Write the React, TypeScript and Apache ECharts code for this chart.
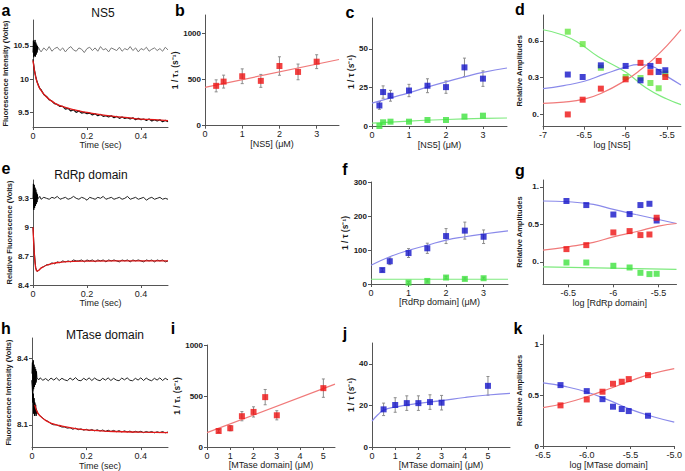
import React, { useEffect, useRef } from "react";
import * as echarts from "echarts";

// ---------- shared time base for stopped-flow traces ----------
const TIME = [0, 0.005, 0.01, 0.015, 0.02, 0.025, 0.03, 0.04, 0.05, 0.06, 0.07, 0.08, 0.09, 0.1, 0.11, 0.12, 0.13, 0.14, 0.15, 0.16, 0.17, 0.18, 0.19, 0.2, 0.21, 0.22, 0.23, 0.24, 0.25, 0.26, 0.27, 0.28, 0.29, 0.3, 0.31, 0.32, 0.33, 0.34, 0.35, 0.36, 0.37, 0.38, 0.39, 0.4, 0.41, 0.42, 0.43, 0.44, 0.45, 0.46, 0.47, 0.48, 0.49, 0.5];
const BURST_TIME = [0, 0.0015, 0.003, 0.0045, 0.006, 0.0075, 0.009, 0.0105, 0.012, 0.0135, 0.015, 0.0165, 0.018];

// ---------- panel a (NS5 traces) ----------
const aControl = [10.45, 10.43, 10.47, 10.42, 10.48, 10.44, 10.41, 10.47, 10.43, 10.49, 10.42, 10.46, 10.48, 10.43, 10.47, 10.41, 10.46, 10.49, 10.44, 10.42, 10.47, 10.45, 10.40, 10.46, 10.48, 10.43, 10.47, 10.42, 10.49, 10.44, 10.46, 10.41, 10.47, 10.45, 10.43, 10.48, 10.42, 10.46, 10.44, 10.49, 10.43, 10.47, 10.41, 10.46, 10.44, 10.48, 10.42, 10.45, 10.47, 10.43, 10.46, 10.42, 10.48, 10.44];
const aTrace = [10.30, 10.14, 10.04, 9.96, 9.91, 9.86, 9.84, 9.77, 9.74, 9.69, 9.67, 9.63, 9.62, 9.59, 9.59, 9.55, 9.56, 9.52, 9.54, 9.50, 9.52, 9.49, 9.50, 9.48, 9.49, 9.46, 9.48, 9.45, 9.47, 9.44, 9.45, 9.43, 9.45, 9.42, 9.44, 9.41, 9.43, 9.41, 9.42, 9.40, 9.42, 9.39, 9.41, 9.39, 9.40, 9.38, 9.40, 9.37, 9.39, 9.37, 9.39, 9.36, 9.38, 9.36];
const aBurst = [10.40, 10.58, 10.33, 10.56, 10.35, 10.59, 10.34, 10.55, 10.37, 10.52, 10.40, 10.50, 10.44];
const aFitT = [0, 0.01, 0.02, 0.03, 0.05, 0.075, 0.1, 0.15, 0.2, 0.25, 0.3, 0.35, 0.4, 0.45, 0.5];
const aFit = [10.28, 10.03, 9.90, 9.83, 9.73, 9.655, 9.60, 9.54, 9.50, 9.465, 9.44, 9.42, 9.40, 9.39, 9.375];
const aYTicks = [9.5, 10, 10.5];
const aYLabels = ["9.5", "10", "10.5"];
const timeTicks = [0, 0.2, 0.4];
const timeLabels = ["0", "0.2", "0.4"];

// ---------- panel b ----------
const bX = [0.3, 0.5, 1, 1.5, 2, 2.5, 3];
const bY = [432, 478, 536, 486, 647, 583, 694];
const bErr = [65, 70, 80, 70, 100, 85, 75];
const bFitX = [0, 3.6];
const bFitY = [415, 718];
const bYTicks = [0, 500, 1000];
const ns5XTicks = [0, 1, 2, 3];

// ---------- panel c ----------
const cX = [0.2, 0.3, 0.5, 1, 1.5, 2, 2.5, 3];
const cBlue = [13.3, 22, 19.6, 23, 26.1, 25.2, 38, 30.7];
const cBlueErr = [2.5, 4, 3.5, 4, 4.5, 4, 6, 5];
const cGreen = [0, 2.4, 2.8, 2.8, 3.9, 3.9, 6.1, 6.7];
const cBlueFitX = [0, 0.5, 1, 1.5, 2, 2.5, 3, 3.65];
const cBlueFit = [14.8, 18.2, 21.5, 25.2, 28.6, 31.8, 34.8, 37.6];
const cGreenFitX = [0, 1, 2, 3, 3.65];
const cGreenFit = [1.8, 3.2, 4.2, 4.9, 5.2];
const cYTicks = [0, 25, 50];

// ---------- panel d ----------
const dX = [-6.70, -6.52, -6.30, -6, -5.82, -5.70, -5.60, -5.52];
const dBlue = [0.325, 0.305, 0.40, 0.395, 0.278, 0.395, 0.346, 0.36];
const dRed = [0.0, 0.12, 0.21, 0.286, 0.42, 0.344, 0.436, 0.305];
const dGreen = [0.674, 0.573, 0.38, 0.305, 0.297, 0.256, 0.213, 0.333];
const dGreenFitX = [-7, -6.75, -6.54, -6.33, -6, -5.75, -5.5, -5.33];
const dGreenFit = [0.69, 0.645, 0.57, 0.47, 0.345, 0.215, 0.125, 0.08];
const dBlueFitX = [-7, -6.75, -6.5, -6.25, -6, -5.85, -5.7, -5.5, -5.33];
const dBlueFit = [0.21, 0.235, 0.27, 0.33, 0.385, 0.405, 0.395, 0.31, 0.24];
const dRedFitX = [-7, -6.75, -6.5, -6.3, -6, -5.8, -5.65, -5.5, -5.33];
const dRedFit = [0.09, 0.10, 0.125, 0.17, 0.278, 0.374, 0.46, 0.56, 0.69];
const dYTicks = [0, 0.3, 0.6];
const dYLabels = ["0.", "0.3", "0.6"];
const dXTicks = [-7, -6.5, -6, -5.5];

// ---------- panel e (RdRp traces) ----------
const eControl = [9.30, 9.31, 9.29, 9.31, 9.30, 9.32, 9.29, 9.31, 9.30, 9.29, 9.31, 9.30, 9.32, 9.29, 9.30, 9.31, 9.29, 9.30, 9.32, 9.30, 9.29, 9.31, 9.30, 9.28, 9.31, 9.30, 9.29, 9.31, 9.30, 9.32, 9.29, 9.30, 9.31, 9.29, 9.30, 9.31, 9.29, 9.30, 9.32, 9.29, 9.30, 9.31, 9.29, 9.30, 9.31, 9.28, 9.30, 9.31, 9.29, 9.30, 9.31, 9.29, 9.30, 9.29];
const eTrace = [9.00, 8.74, 8.58, 8.54, 8.55, 8.56, 8.58, 8.59, 8.61, 8.61, 8.63, 8.62, 8.64, 8.63, 8.65, 8.64, 8.65, 8.64, 8.66, 8.65, 8.65, 8.66, 8.64, 8.66, 8.65, 8.66, 8.64, 8.66, 8.65, 8.66, 8.64, 8.66, 8.65, 8.66, 8.65, 8.64, 8.66, 8.65, 8.66, 8.64, 8.66, 8.65, 8.66, 8.65, 8.64, 8.66, 8.65, 8.66, 8.64, 8.66, 8.65, 8.66, 8.64, 8.65];
const eBurst = [9.30, 9.45, 9.18, 9.44, 9.20, 9.41, 9.22, 9.39, 9.24, 9.36, 9.26, 9.34, 9.29];
const eFitT = [0, 0.005, 0.01, 0.015, 0.02, 0.03, 0.05, 0.075, 0.1, 0.15, 0.2, 0.3, 0.4, 0.5];
const eFit = [9.0, 8.72, 8.575, 8.545, 8.55, 8.575, 8.605, 8.625, 8.635, 8.645, 8.648, 8.65, 8.65, 8.65];
const eYTicks = [8.4, 8.7, 9, 9.3];
const eYLabels = ["8.4", "8.7", "9", "9.3"];

// ---------- panel f ----------
const fX = [0.3, 0.5, 1, 1.5, 2, 2.5, 3];
const fBlue = [41, 67, 91, 105, 141, 157, 139];
const fBlueErr = [5, 10, 13, 15, 22, 25, 20];
const fGreenX = [1, 1.5, 2, 2.5, 3];
const fGreen = [4, 9, 19, 15, 17];
const fGreenErr = [3, 3, 4, 3, 3];
const fBlueFitX = [0, 0.5, 1, 1.5, 2, 2.5, 3, 3.65];
const fBlueFit = [55, 80, 99, 114, 129, 139, 147, 156];
const fGreenFitX = [0, 3.65];
const fGreenFit = [14, 14];
const fYTicks = [0, 100, 200, 300];

// ---------- panel g ----------
const gX = [-6.52, -6.30, -6, -5.82, -5.70, -5.60, -5.52];
const gBlue = [0.81, 0.756, 0.63, 0.636, 0.756, 0.773, 0.55];
const gRed = [0.169, 0.222, 0.391, 0.409, 0.356, 0.364, 0.587];
const gGreen = [-0.01, -0.01, -0.053, -0.076, -0.147, -0.164, -0.16];
const gFitX = [-6.78, -6.5, -6.22, -6, -5.75, -5.5, -5.3];
const gBlueFit = [0.81, 0.80, 0.764, 0.698, 0.63, 0.564, 0.51];
const gRedFit = [0.156, 0.2, 0.258, 0.333, 0.4, 0.476, 0.51];
const gGreenFitX = [-6.78, -5.3];
const gGreenFit = [-0.067, -0.1];
const gYTicks = [0, 0.5, 1];
const gYLabels = ["0.", "0.5", "1."];
const gXTicks = [-6.5, -6, -5.5];

// ---------- panel h (MTase traces) ----------
const hControl = [8.306, 8.301, 8.31, 8.299, 8.309, 8.302, 8.311, 8.3, 8.308, 8.298, 8.31, 8.301, 8.311, 8.299, 8.309, 8.302, 8.298, 8.31, 8.301, 8.312, 8.3, 8.298, 8.309, 8.301, 8.311, 8.299, 8.31, 8.302, 8.298, 8.309, 8.301, 8.311, 8.299, 8.309, 8.301, 8.298, 8.31, 8.302, 8.311, 8.3, 8.298, 8.309, 8.301, 8.311, 8.299, 8.31, 8.302, 8.298, 8.309, 8.301, 8.311, 8.299, 8.309, 8.302];
const hTrace = [8.30, 8.22, 8.19, 8.17, 8.155, 8.145, 8.14, 8.13, 8.12, 8.115, 8.105, 8.10, 8.10, 8.095, 8.09, 8.09, 8.085, 8.087, 8.08, 8.085, 8.078, 8.082, 8.076, 8.08, 8.074, 8.079, 8.073, 8.078, 8.072, 8.077, 8.07, 8.076, 8.07, 8.075, 8.069, 8.074, 8.068, 8.073, 8.068, 8.072, 8.066, 8.071, 8.067, 8.071, 8.065, 8.07, 8.066, 8.07, 8.064, 8.069, 8.065, 8.07, 8.064, 8.068];
const hBurstCtrl = [8.33, 8.38, 8.25, 8.39, 8.26, 8.37, 8.27, 8.36, 8.28, 8.35, 8.29, 8.34, 8.31];
const hBurstTrace = [8.30, 8.25, 8.20, 8.24, 8.15, 8.22, 8.14, 8.20, 8.15, 8.19, 8.14, 8.17, 8.15];
const hFitT = [0.01, 0.02, 0.03, 0.05, 0.075, 0.1, 0.15, 0.2, 0.3, 0.4, 0.5];
const hFit = [8.19, 8.156, 8.14, 8.12, 8.105, 8.097, 8.085, 8.077, 8.07, 8.067, 8.065];
const hYTicks = [8.1, 8.4];
const hYLabels = ["8.1", "8.4"];

// ---------- panel i ----------
const mtX = [0.5, 1, 1.5, 2, 2.5, 3, 5];
const iY = [157, 184, 302, 344, 489, 311, 577];
const iErr = [15, 25, 45, 50, 75, 45, 90];
const iFitX = [0, 5.5];
const iFitY = [141, 616];
const iYTicks = [0, 500, 1000];
const mtXTicks = [0, 1, 2, 3, 4, 5];

// ---------- panel j ----------
const jY = [18.1, 20.2, 21.1, 21.1, 21.6, 21.3, 29.4];
const jErr = [3, 3.5, 3.5, 3.5, 3.5, 3.5, 4.5];
const jFitX = [0, 0.25, 0.5, 1, 2, 3, 4, 5, 5.95];
const jFit = [12.4, 15.5, 17.7, 19.2, 21, 22.3, 23.8, 25, 25.8];
const jYTicks = [0, 20, 40];

// ---------- panel k ----------
const kX = [-6.30, -6, -5.82, -5.70, -5.60, -5.52, -5.30];
const kBlue = [0.598, 0.539, 0.46, 0.386, 0.363, 0.343, 0.297];
const kRed = [0.399, 0.457, 0.533, 0.611, 0.631, 0.657, 0.696];
const kFitX = [-6.5, -6.25, -6, -5.75, -5.5, -5.25, -5];
const kBlueFit = [0.62, 0.585, 0.53, 0.45, 0.36, 0.29, 0.235];
const kRedFit = [0.376, 0.42, 0.484, 0.56, 0.64, 0.71, 0.76];
const kYTicks = [0, 0.5, 1];
const kYLabels = ["0", "0.5", "1"];
const kXTicks = [-6.5, -6, -5.5, -5];
const kXLabels = ["-6.5", "-6.0", "-5.5", "-5.0"];

// ---------- styling ----------
const FONT = "'Liberation Sans', Arial, Helvetica, sans-serif";
const AXC = "#555";
const TXT = "#1a1a1a";
const RED = "#ee1111";
const BLUE = "#1414c8";
const GREEN = "#3ee23e";
const RED_FIT = "#f07a7a";
const BLUE_FIT = "#8a8aea";
const GREEN_FIT = "#7eea7e";

const zip = (xs: number[], ys: number[]) => {
  const n = Math.min(xs.length, ys.length);
  const out: number[][] = [];
  for (let i = 0; i < n; i++) out.push([xs[i], ys[i]]);
  return out;
};

const fmt = (ticks: number[], labels?: string[]) => (v: number) => {
  const i = ticks.findIndex((t) => Math.abs(t - v) < 1e-9);
  if (i < 0) return "";
  return labels ? labels[i] : String(ticks[i]);
};

function xAxis(gi: number, min: number, max: number, ticks: number[], name: string, gap: number, labels?: string[]) {
  return {
    type: "value", gridIndex: gi, min, max, name, nameLocation: "middle", nameGap: gap,
    nameTextStyle: { fontSize: 9, color: TXT, fontFamily: FONT },
    axisLine: { show: true, onZero: false, lineStyle: { color: AXC, width: 1 } },
    axisTick: { show: true, length: 3, customValues: ticks, lineStyle: { color: AXC } },
    axisLabel: { customValues: ticks, formatter: fmt(ticks, labels), fontSize: 9, color: TXT, fontFamily: FONT, margin: 4 },
    splitLine: { show: false },
  };
}

function yAxis(gi: number, min: number, max: number, ticks: number[], name: string, gap: number, labels?: string[], nameSize = 8.5) {
  return {
    type: "value", gridIndex: gi, min, max, name, nameLocation: "middle", nameGap: gap,
    nameTextStyle: { fontSize: nameSize, color: TXT, fontFamily: FONT, fontWeight: "bold" },
    axisLine: { show: true, onZero: false, lineStyle: { color: AXC, width: 1 } },
    axisTick: { show: true, length: 3, customValues: ticks, lineStyle: { color: AXC } },
    axisLabel: { customValues: ticks, formatter: fmt(ticks, labels), fontSize: 8, fontWeight: "bold", color: TXT, fontFamily: FONT, margin: 4 },
    splitLine: { show: false },
  };
}

function line(gi: number, xs: number[], ys: number[], color: string, width = 1, smooth = false, z = 2) {
  return {
    type: "line", xAxisIndex: gi, yAxisIndex: gi, data: zip(xs, ys), showSymbol: false, symbol: "none",
    smooth, lineStyle: { color, width }, z, silent: true,
  };
}

function scatter(gi: number, xs: number[], ys: number[], color: string) {
  return {
    type: "scatter", xAxisIndex: gi, yAxisIndex: gi, data: zip(xs, ys), symbol: "rect", symbolSize: 6,
    itemStyle: { color }, z: 4, silent: true,
  };
}

function errBars(gi: number, xs: number[], ys: number[], errs: number[]) {
  const data = xs.map((x, i) => [x, ys[i], errs[i]]);
  return {
    type: "custom", xAxisIndex: gi, yAxisIndex: gi, data, z: 1, silent: true,
    encode: { x: 0, y: 1 },
    renderItem: (_p: any, api: any) => {
      const x = api.value(0), y = api.value(1), e = api.value(2);
      const top = api.coord([x, y + e]);
      const bot = api.coord([x, y - e]);
      const c = 1.5;
      const st = { stroke: "#8c8c8c", lineWidth: 1 };
      return {
        type: "group",
        children: [
          { type: "line", shape: { x1: top[0], y1: top[1], x2: bot[0], y2: bot[1] }, style: st },
          { type: "line", shape: { x1: top[0] - c, y1: top[1], x2: top[0] + c, y2: top[1] }, style: st },
          { type: "line", shape: { x1: bot[0] - c, y1: bot[1], x2: bot[0] + c, y2: bot[1] }, style: st },
        ],
      };
    },
  };
}

function letter(t: string, x: number, y: number) {
  return { type: "text", x, y, style: { text: t, font: `bold 16px ${FONT}`, fill: "#000", align: "center", verticalAlign: "middle" } };
}
function title(t: string, x: number, y: number) {
  return { type: "text", x, y, style: { text: t, font: `12px ${FONT}`, fill: "#111", align: "center", verticalAlign: "middle" } };
}

export default function App() {
  const ref = useRef<HTMLDivElement>(null);
  useEffect(() => {
    if (!ref.current) return;
    const chart = echarts.init(ref.current, null, { renderer: "svg" });
    const grids = [
      { left: 33, top: 20, width: 135, height: 107 },     // a
      { left: 205, top: 15, width: 134, height: 110.7 },  // b
      { left: 372, top: 18, width: 135, height: 108 },    // c
      { left: 543, top: 15, width: 138, height: 111.7 },  // d
      { left: 33, top: 180, width: 135, height: 105 },    // e
      { left: 371, top: 182, width: 137, height: 102 },   // f
      { left: 543, top: 180, width: 133.5, height: 104.3 }, // g
      { left: 32, top: 338, width: 136, height: 110 },    // h
      { left: 207, top: 345, width: 128, height: 102 },   // i
      { left: 372, top: 343, width: 138, height: 104 },   // j
      { left: 543, top: 335, width: 133.5, height: 111 }, // k
    ];
    const tauName = "1 / τ (s⁻¹)";
    const tau1Name = "1 / τ₁ (s⁻¹)";
    const xAxes = [
      xAxis(0, 0, 0.5, timeTicks, "Time (sec)", 12, timeLabels),
      xAxis(1, 0, 3.6, ns5XTicks, "[NS5] (μM)", 14),
      xAxis(2, 0, 3.65, ns5XTicks, "[NS5] (μM)", 14),
      xAxis(3, -7, -5.33, dXTicks, "log [NS5]", 12),
      xAxis(4, 0, 0.5, timeTicks, "Time (sec)", 12, timeLabels),
      xAxis(5, 0, 3.65, ns5XTicks, "[RdRp domain] (μM)", 12),
      xAxis(6, -6.78, -5.3, gXTicks, "log [RdRp domain]", 12),
      xAxis(7, 0, 0.5, timeTicks, "Time (sec)", 13, timeLabels),
      xAxis(8, 0, 5.5, mtXTicks, "[MTase domain] (μM)", 13),
      xAxis(9, 0, 5.95, mtXTicks, "[MTase domain] (μM)", 13),
      xAxis(10, -6.5, -5.0, kXTicks, "log [MTase domain]", 14, kXLabels),
    ];
    const yAxes = [
      yAxis(0, 9.28, 10.89, aYTicks, "Fluorescence Intensity (Volts)", 18, aYLabels, 7.5),
      yAxis(1, 0, 1200, bYTicks, tau1Name, 12),
      yAxis(2, 0, 70, cYTicks, tauName, 12),
      yAxis(3, -0.1, 0.81, dYTicks, "Relative Amplitudes", 14, dYLabels, 7.5),
      yAxis(4, 8.4, 9.49, eYTicks, "Relative Fluorescence (Volts)", 18, eYLabels, 7.5),
      yAxis(5, 0, 300, fYTicks, tauName, 11),
      yAxis(6, -0.3, 1.09, gYTicks, "Relative Amplitudes", 16, gYLabels, 7.5),
      yAxis(7, 8.0, 8.49, hYTicks, "Fluorescence Intensity (Volts)", 17, hYLabels, 7.5),
      yAxis(8, 0, 1000, iYTicks, tau1Name, 19),
      yAxis(9, 0, 50, jYTicks, tauName, 12),
      yAxis(10, 0, 1.09, kYTicks, "Relative Amplitudes", 16, kYLabels, 7.5),
    ];
    const series: any[] = [
      // a
      line(0, TIME, aControl, "#7a7a7a", 1),
      line(0, TIME, aTrace, "#111", 1.2),
      line(0, BURST_TIME, aBurst, "#000", 1),
      line(0, aFitT, aFit, "#e01818", 1.3, true, 3),
      // b
      errBars(1, bX, bY, bErr),
      line(1, bFitX, bFitY, RED_FIT, 1.2),
      scatter(1, bX, bY, RED),
      // c
      errBars(2, cX, cBlue, cBlueErr),
      line(2, cBlueFitX, cBlueFit, BLUE_FIT, 1.2, true),
      line(2, cGreenFitX, cGreenFit, GREEN_FIT, 1.2, true),
      scatter(2, cX, cBlue, BLUE),
      scatter(2, cX, cGreen, GREEN),
      // d
      line(3, dGreenFitX, dGreenFit, GREEN_FIT, 1.2, true),
      line(3, dBlueFitX, dBlueFit, BLUE_FIT, 1.2, true),
      line(3, dRedFitX, dRedFit, RED_FIT, 1.2, true),
      scatter(3, dX, dGreen, "#66e644"),
      scatter(3, dX, dBlue, BLUE),
      scatter(3, dX, dRed, RED),
      // e
      line(4, TIME, eControl, "#222", 1),
      line(4, BURST_TIME, eBurst, "#000", 1),
      line(4, TIME, eTrace, "#222", 1),
      line(4, eFitT, eFit, "#e01818", 1.3, true, 3),
      // f
      errBars(5, fX, fBlue, fBlueErr),
      errBars(5, fGreenX, fGreen, fGreenErr),
      line(5, fBlueFitX, fBlueFit, BLUE_FIT, 1.2, true),
      line(5, fGreenFitX, fGreenFit, GREEN_FIT, 1.2),
      scatter(5, fX, fBlue, BLUE),
      scatter(5, fGreenX, fGreen, GREEN),
      // g
      line(6, gFitX, gBlueFit, BLUE_FIT, 1.2, true),
      line(6, gFitX, gRedFit, RED_FIT, 1.2, true),
      line(6, gGreenFitX, gGreenFit, GREEN_FIT, 1.2),
      scatter(6, gX, gBlue, BLUE),
      scatter(6, gX, gRed, RED),
      scatter(6, gX, gGreen, GREEN),
      // h
      line(7, TIME, hControl, "#222", 1),
      line(7, BURST_TIME, hBurstCtrl, "#000", 1),
      line(7, TIME, hTrace, "#222", 1),
      line(7, BURST_TIME, hBurstTrace, "#000", 1),
      line(7, hFitT, hFit, "#e01818", 1.3, true, 3),
      // i
      errBars(8, mtX, iY, iErr),
      line(8, iFitX, iFitY, RED_FIT, 1.2),
      scatter(8, mtX, iY, RED),
      // j
      errBars(9, mtX, jY, jErr),
      line(9, jFitX, jFit, BLUE_FIT, 1.2, true),
      scatter(9, mtX, jY, BLUE),
      // k
      line(10, kFitX, kBlueFit, BLUE_FIT, 1.2, true),
      line(10, kFitX, kRedFit, RED_FIT, 1.2, true),
      scatter(10, kX, kBlue, BLUE),
      scatter(10, kX, kRed, RED),
    ];
    chart.setOption({
      animation: false,
      backgroundColor: "#ffffff",
      textStyle: { fontFamily: FONT },
      grid: grids,
      xAxis: xAxes,
      yAxis: yAxes,
      series,
      graphic: [
        letter("a", 6, 10), letter("b", 180, 10), letter("c", 350, 12), letter("d", 520, 9),
        letter("e", 6, 168), letter("f", 345, 169), letter("g", 520, 170),
        letter("h", 6, 328), letter("i", 173, 328), letter("j", 345, 333), letter("k", 518, 328),
        title("NS5", 103, 13), title("RdRp domain", 91, 175), title("MTase domain", 105, 335),
      ],
    });
    return () => chart.dispose();
  }, []);
  return (
    <div
      ref={ref}
      style={{ position: "absolute", left: 0, top: 0, width: 685, height: 471, background: "#fff" }}
    />
  );
}
